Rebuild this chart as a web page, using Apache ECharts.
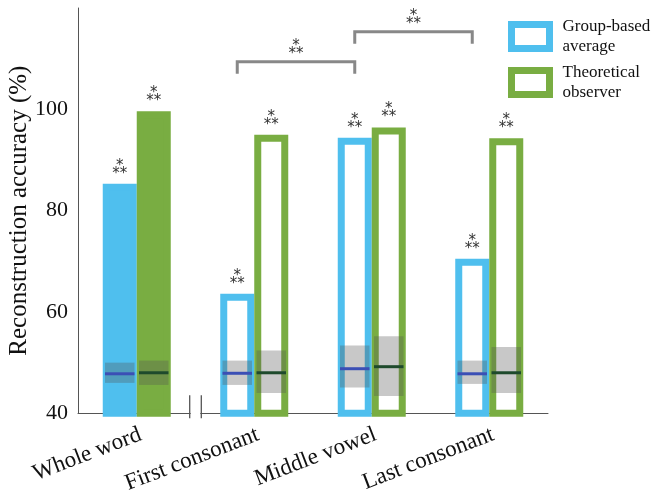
<!DOCTYPE html>
<html><head><meta charset="utf-8">
<script src="https://cdn.jsdelivr.net/npm/echarts@6/dist/echarts.min.js"></script>
<style>html,body{margin:0;padding:0;background:#fff}#c{width:654px;height:495px}</style>
</head><body><div id="c"></div>
<script>
// ---------- data ----------
const categories = ['Whole word', 'First consonant', 'Middle vowel', 'Last consonant'];
const groupAcc = [85.3, 63.6, 94.4, 70.5];
const theoAcc  = [99.6, 95.0, 96.4, 94.3];
const groupFilled = [true, false, false, false];
const theoFilled  = [true, false, false, false];
const groupChanceMean = [47.8, 47.9, 48.8, 47.8];
const groupChanceLo   = [46.0, 45.6, 45.1, 45.8];
const groupChanceHi   = [50.0, 50.4, 53.4, 50.4];
const theoChanceMean  = [48.0, 48.0, 49.2, 48.0];
const theoChanceLo    = [45.6, 44.0, 43.4, 44.0];
const theoChanceHi    = [50.4, 52.4, 55.2, 53.1];
const groupSig = ['***', '***', '***', '***'];
const theoSig  = ['***', '***', '***', '***'];
const bracketFrom = [1, 2];
const bracketTo   = [2, 3];
const bracketY    = [109.4, 115.3];
const bracketSig  = ['***', '***'];
const yTicks = [40, 60, 80, 100];

// ---------- style / layout ----------
const BLUE = '#4FBFEE', GREEN = '#79AD42';
const BLUE_LINE = '#3B4FB5', GREEN_LINE = '#1E4A2C';
const SERIF = 'Liberation Serif, DejaVu Serif, serif';
const STAR_FONT = 'DejaVu Sans, sans-serif';
const GROUP_NAME = 'Group-based\naverage';
const THEO_NAME = 'Theoretical\nobserver';
const catPx = 117.5;
const barOffset = 17 / catPx;
const starText = s => s === '***' ? '*\n**' : s;

const starLabel = (sig) => ({
  show: true, position: 'top', distance: 6,
  formatter: p => starText(sig[p.dataIndex]),
  fontFamily: STAR_FONT, fontSize: 15, lineHeight: 8, color: '#333', align: 'center'
});

function barSeries(name, values, filled, sig, color) {
  return {
    name, type: 'bar', xAxisIndex: 0, barWidth: 34, barGap: '0%',
    itemStyle: { color: '#fff', borderColor: color, borderWidth: 7 },
    data: values.map((v, i) => filled[i] ? { value: v, itemStyle: { color: color } } : v),
    label: starLabel(sig), silent: true, z: 3
  };
}

function bandSeries(lo, hi, mean, offset, lineColor) {
  return {
    type: 'custom', xAxisIndex: 1, yAxisIndex: 0, silent: true, z: 6,
    data: categories.map((c, i) => [i + offset, lo[i], hi[i], mean[i]]),
    encode: { x: 0, y: [1, 2, 3] },
    renderItem(params, api) {
      const x = api.value(0);
      const pLo = api.coord([x, api.value(1)]);
      const pHi = api.coord([x, api.value(2)]);
      const pM = api.coord([x, api.value(3)]);
      const hw = 14.75;
      return { type: 'group', children: [
        { type: 'rect', shape: { x: pLo[0] - hw, y: pHi[1], width: 2 * hw, height: pLo[1] - pHi[1] },
          style: { fill: 'rgba(85,85,85,0.32)' } },
        { type: 'line', shape: { x1: pM[0] - hw, y1: pM[1], x2: pM[0] + hw, y2: pM[1] },
          style: { stroke: lineColor, lineWidth: 3 } }
      ]};
    }
  };
}

const bracketSeries = {
  type: 'custom', xAxisIndex: 1, yAxisIndex: 0, silent: true, z: 6,
  data: bracketFrom.map((f, i) => [f - barOffset, bracketTo[i] - barOffset, bracketY[i], i]),
  encode: { x: [0, 1], y: 2 },
  renderItem(params, api) {
    const a = api.coord([api.value(0), api.value(2)]);
    const b = api.coord([api.value(1), api.value(2)]);
    const leg = 12;
    return { type: 'group', children: [
      { type: 'polyline', shape: { points: [[a[0], a[1] + leg], a, b, [b[0], b[1] + leg]] },
        style: { stroke: '#888', lineWidth: 3, fill: null, lineJoin: 'miter' } },
      { type: 'text', x: (a[0] + b[0]) / 2, y: a[1] - 4,
        style: { text: starText(bracketSig[api.value(3)]), font: '15px ' + STAR_FONT, lineHeight: 8,
          fill: '#333', align: 'center', verticalAlign: 'bottom' } }
    ]};
  }
};

const breakSeries = {
  type: 'custom', xAxisIndex: 1, yAxisIndex: 0, silent: true, z: 7,
  data: [[0.5, 40]],
  renderItem(params, api) {
    const p = api.coord([api.value(0), api.value(1)]);
    const d = 5.8;
    return { type: 'group', children: [
      { type: 'rect', shape: { x: p[0] - d + 1, y: p[1] - 2, width: 2 * d - 2, height: 4 }, style: { fill: '#fff' } },
      { type: 'line', shape: { x1: p[0] - d, y1: p[1] - 18, x2: p[0] - d, y2: p[1] + 5 }, style: { stroke: '#555', lineWidth: 1.3 } },
      { type: 'line', shape: { x1: p[0] + d, y1: p[1] - 18, x2: p[0] + d, y2: p[1] + 5 }, style: { stroke: '#555', lineWidth: 1.3 } }
    ]};
  }
};

const chart = echarts.init(document.getElementById('c'), null, { renderer: 'canvas' });
chart.setOption({
  animation: false,
  backgroundColor: '#fff',
  grid: { left: 78, right: 106, top: 8, bottom: 81.7, containLabel: false, outerBoundsMode: 'none' },
  legend: {
    data: [GROUP_NAME, THEO_NAME], orient: 'vertical', left: 503, top: 9,
    icon: 'rect', itemWidth: 38, itemHeight: 24, itemGap: 1,
    itemStyle: { borderWidth: 7 },
    textStyle: { fontFamily: SERIF, fontSize: 17, lineHeight: 20, color: '#111', padding: [5, 0, 0, 8] },
    selectedMode: false
  },
  xAxis: [
    { type: 'category', data: categories,
      axisLine: { onZero: false, lineStyle: { color: '#555', width: 1 } }, axisTick: { show: false },
      axisLabel: { interval: 0, rotate: 21, margin: 22, padding: [0, -4, 0, 0],
        fontFamily: SERIF, fontSize: 23, color: '#111' } },
    { type: 'value', min: -0.5, max: 3.5, show: false }
  ],
  yAxis: {
    type: 'value', min: 40, max: 120, interval: 20,
    name: 'Reconstruction accuracy (%)', nameLocation: 'middle', nameGap: 46, nameMoveOverlap: false,
    nameTextStyle: { fontFamily: SERIF, fontSize: 25, color: '#111' },
    axisLine: { show: true, onZero: false, lineStyle: { color: '#555', width: 1 } },
    axisTick: { show: false }, splitLine: { show: false },
    axisLabel: { fontFamily: SERIF, fontSize: 22, color: '#111', margin: 10,
      formatter: v => yTicks.includes(v) ? String(v) : '' }
  },
  series: [
    barSeries(GROUP_NAME, groupAcc, groupFilled, groupSig, BLUE),
    barSeries(THEO_NAME, theoAcc, theoFilled, theoSig, GREEN),
    bandSeries(groupChanceLo, groupChanceHi, groupChanceMean, -barOffset, BLUE_LINE),
    bandSeries(theoChanceLo, theoChanceHi, theoChanceMean, barOffset, GREEN_LINE),
    bracketSeries,
    breakSeries
  ]
});
</script>
</body></html>
